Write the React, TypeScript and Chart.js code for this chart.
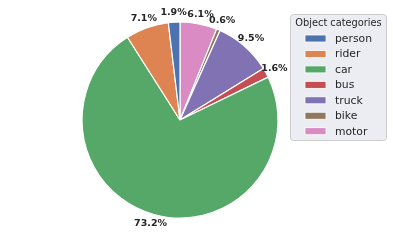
import React, { useEffect, useRef } from "react";
import { Chart, registerables } from "chart.js";

Chart.register(...registerables);

const categories = ["person", "rider", "car", "bus", "truck", "bike", "motor"];
const percents = [1.9, 7.1, 73.2, 1.6, 9.5, 0.6, 6.1];
const colors = ["#4C72B0", "#DD8452", "#55A868", "#C44E52", "#8172B3", "#937860", "#DA8BC3"];
const legendTitle = "Object categories";

const W = 393;
const H = 243;

const labelPlugin = {
  id: "pctLabels",
  afterDatasetsDraw(chart: any) {
    const ctx = chart.ctx;
    const meta = chart.getDatasetMeta(0);
    const data = chart.data.datasets[0].data as number[];
    ctx.save();
    ctx.font = "bold 9.5px 'DejaVu Sans'";
    ctx.fillStyle = "#262626";
    ctx.textAlign = "center";
    ctx.textBaseline = "middle";
    meta.data.forEach((arc: any, i: number) => {
      const { x, y, startAngle, endAngle, outerRadius } = arc.getProps(
        ["x", "y", "startAngle", "endAngle", "outerRadius"],
        true
      );
      const mid = (startAngle + endAngle) / 2;
      const r = outerRadius * 1.1;
      ctx.fillText(data[i].toFixed(1) + "%", x + Math.cos(mid) * r, y + Math.sin(mid) * r);
    });
    ctx.restore();
  },
};

const legendPlugin = {
  id: "boxLegend",
  afterDraw(chart: any) {
    const ctx = chart.ctx;
    const left = 290.5, top = 14.5, w = 96, h = 126, rad = 3;
    ctx.save();
    ctx.beginPath();
    ctx.moveTo(left + rad, top);
    ctx.lineTo(left + w - rad, top);
    ctx.arcTo(left + w, top, left + w, top + rad, rad);
    ctx.lineTo(left + w, top + h - rad);
    ctx.arcTo(left + w, top + h, left + w - rad, top + h, rad);
    ctx.lineTo(left + rad, top + h);
    ctx.arcTo(left, top + h, left, top + h - rad, rad);
    ctx.lineTo(left, top + rad);
    ctx.arcTo(left, top, left + rad, top, rad);
    ctx.closePath();
    ctx.fillStyle = "rgba(234,234,242,0.9)";
    ctx.fill();
    ctx.strokeStyle = "#cccccc";
    ctx.lineWidth = 1;
    ctx.stroke();

    ctx.fillStyle = "#262626";
    ctx.textBaseline = "middle";
    ctx.textAlign = "center";
    ctx.font = "9.8px 'DejaVu Sans'";
    ctx.fillText(legendTitle, left + w / 2, 23.5);

    ctx.textAlign = "left";
    ctx.font = "10.8px 'DejaVu Sans'";
    const labels = chart.data.labels as string[];
    labels.forEach((lab: string, i: number) => {
      const cy = 38.5 + i * 15.45;
      ctx.fillStyle = colors[i];
      ctx.fillRect(305, cy - 3.5, 21, 7);
      ctx.strokeStyle = "#ffffff";
      ctx.lineWidth = 0.8;
      ctx.strokeRect(305, cy - 3.5, 21, 7);
      ctx.fillStyle = "#262626";
      ctx.fillText(lab, 335, cy + 0.5);
    });
    ctx.restore();
  },
};

export default function App() {
  const ref = useRef<HTMLCanvasElement>(null);
  useEffect(() => {
    document.body.style.margin = "0";
    const rev = (a: any[]) => a.slice().reverse();
    const chart = new Chart(ref.current!, {
      type: "pie",
      data: {
        labels: categories,
        datasets: [
          {
            data: rev(percents),
            backgroundColor: rev(colors),
            borderColor: "#ffffff",
            borderWidth: 1.2,
            hoverOffset: 0,
          },
        ],
      },
      options: {
        animation: false,
        responsive: false,
        events: [],
        radius: 98,
        rotation: 0,
        layout: { padding: { left: 0, right: 33, top: 0, bottom: 3 } },
        plugins: { legend: { display: false }, tooltip: { enabled: false } },
      } as any,
      plugins: [labelPlugin, legendPlugin],
    });
    return () => chart.destroy();
  }, []);
  return (
    <div style={{ width: W, height: H, background: "#fff" }}>
      <canvas ref={ref} width={W} height={H} style={{ width: W, height: H, display: "block" }} />
    </div>
  );
}
